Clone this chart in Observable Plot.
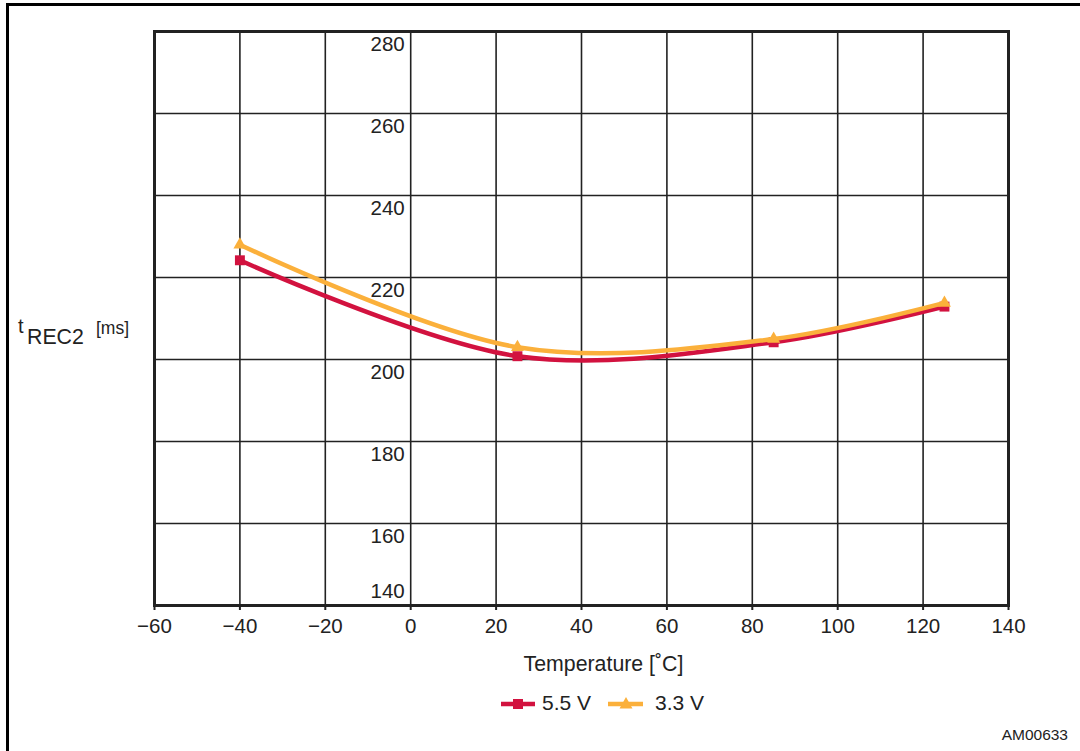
<!DOCTYPE html>
<html><head><meta charset="utf-8">
<script src="https://cdn.jsdelivr.net/npm/d3@7"></script>
<script src="https://cdn.jsdelivr.net/npm/@observablehq/plot@0.6"></script>
<style>
body{margin:0;background:#fff;font-family:"Liberation Sans",Arial,sans-serif;color:#222;}
#wrap{position:relative;width:1080px;height:751px;overflow:hidden;background:#fff;}
#frame{position:absolute;left:6px;top:3px;width:1200px;height:900px;border:3px solid #000;}
#chart{position:absolute;left:0;top:0;}
</style>
</head><body>
<div id="wrap">
  <div id="frame"></div>
  <div id="chart"></div>
  <svg id="overlay" width="1080" height="751" style="position:absolute;left:0;top:0;pointer-events:none" font-family="Liberation Sans, Arial, sans-serif" fill="#222">
    <text x="18" y="333" font-size="20">t</text>
    <text x="27" y="344" font-size="21.3">REC2</text>
    <text x="96" y="334" font-size="17.5">[ms]</text>
    <text x="603.5" y="671" font-size="21.3" text-anchor="middle">Temperature [˚C]</text>
    <line x1="501" x2="535" y1="704" y2="704" stroke="#d2123f" stroke-width="4.5"/>
    <rect x="513" y="699" width="10" height="10" fill="#d2123f"/>
    <text x="542" y="709.5" font-size="21">5.5 V</text>
    <line x1="608" x2="643" y1="704" y2="704" stroke="#fbb03b" stroke-width="4.5"/>
    <path d="M626,697 L632.5,708.5 L619.5,708.5 Z" fill="#fbb03b"/>
    <text x="655" y="709.5" font-size="21">3.3 V</text>
    <text x="1068" y="740" font-size="15.5" text-anchor="end">AM00633</text>
  </svg>
</div>
<script>
const temps = [-40, 25, 85, 125];
const v55 = [224.2, 200.8, 204.2, 212.9];
const v33 = [228.0, 203.0, 205.0, 213.8];
const xTicks = [-60, -40, -20, 0, 20, 40, 60, 80, 100, 120, 140];
const yTicks = [140, 160, 180, 200, 220, 240, 260, 280];

const d55 = temps.map((t, i) => ({t, v: v55[i]}));
const d33 = temps.map((t, i) => ({t, v: v33[i]}));
const fmt = d => d < 0 ? "\u2212" + (-d) : String(d);

const chart = Plot.plot({
  width: 1080, height: 751,
  marginLeft: 154, marginRight: 72, marginTop: 31, marginBottom: 146,
  style: {fontFamily: "Liberation Sans, Arial, sans-serif", fontSize: "20.5px", color: "#222", background: "transparent", overflow: "visible"},
  x: {domain: [-60, 140]},
  y: {domain: [140, 280], axis: null},
  marks: [
    Plot.ruleX(xTicks, {stroke: "#222", strokeWidth: 1.6, strokeOpacity: 1}),
    Plot.ruleY(yTicks, {stroke: "#222", strokeWidth: 1.6, strokeOpacity: 1}),
    Plot.frame({stroke: "#222", strokeWidth: 3}),
    Plot.axisX(xTicks, {tickSize: 5, tickPadding: 8, stroke: "#222", strokeWidth: 2, fontSize: 20.5, label: null, tickFormat: fmt}),
    Plot.text(yTicks.filter(d => d !== 140), {x: 0, y: d => d, text: d => String(d), textAnchor: "end", dx: -6, dy: 13, fontSize: 20.5, fill: "#222"}),
    Plot.text(yTicks.filter(d => d === 140), {x: 0, y: d => d, text: d => String(d), textAnchor: "end", dx: -6, dy: -14, fontSize: 20.5, fill: "#222"}),
    Plot.line(d55, {x: "t", y: "v", stroke: "#d2123f", strokeWidth: 4.5, curve: "catmull-rom"}),
    Plot.dot(d55, {x: "t", y: "v", symbol: "square", r: 5.6, fill: "#d2123f", stroke: "none"}),
    Plot.line(d33, {x: "t", y: "v", stroke: "#fbb03b", strokeWidth: 4.5, curve: "catmull-rom"}),
    Plot.dot(d33, {x: "t", y: "v", symbol: "triangle", r: 4.8, fill: "#fbb03b", stroke: "none"})
  ]
});
document.getElementById("chart").appendChild(chart);
</script>
</body></html>
